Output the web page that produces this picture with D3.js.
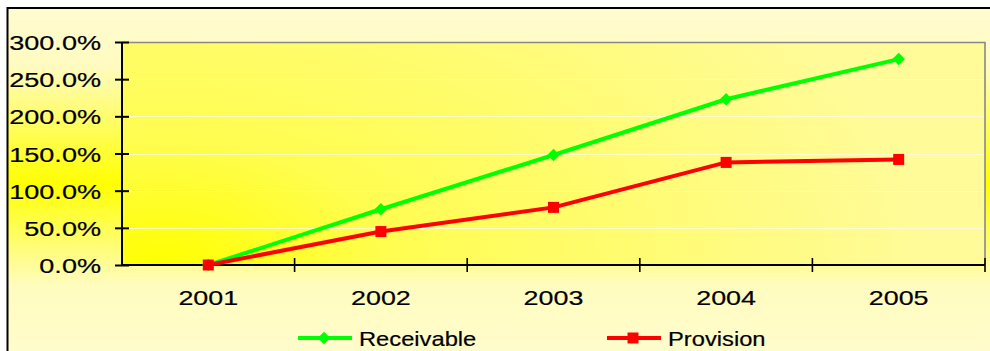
<!DOCTYPE html>
<html>
<head>
<meta charset="utf-8">
<script src="https://cdn.jsdelivr.net/npm/d3@7/dist/d3.min.js"></script>
<style>
	html, body { margin: 0; padding: 0; background: #fff; }
	svg { display: block; font-family: "Liberation Sans", Arial, sans-serif; }
</style>
</head>
<body>
<div id="chart"></div>
<script>
const YEARS = ['2001', '2002', '2003', '2004', '2005'];
const RECEIVABLE = [0, 75, 148, 223, 277];
const PROVISION = [0, 45, 77.5, 138, 142];
const Y_TICKS = [0, 50, 100, 150, 200, 250, 300];
const SERIES_NAMES = ['Receivable', 'Provision'];

const W = 990,
	H = 351,
	margin = { left: 122, top: 42, right: 5, bottom: 86 },
	plotW = W - margin.left - margin.right,
	plotH = H - margin.top - margin.bottom;

const svg = d3.select('#chart').append('svg')
	.attr('width', W)
	.attr('height', H);

const defs = svg.append('defs');

// chart area: pale at top and bottom, strong yellow in the middle
let outerGrad = defs.append('linearGradient')
	.attr('id', 'outerGrad')
	.attr('x1', 0).attr('y1', 0).attr('x2', 0).attr('y2', 1);
outerGrad.append('stop').attr('offset', '0%').attr('stop-color', '#fffcd0');
outerGrad.append('stop').attr('offset', '16%').attr('stop-color', '#fffbc0');
outerGrad.append('stop').attr('offset', '48%').attr('stop-color', '#ffff00');
outerGrad.append('stop').attr('offset', '76%').attr('stop-color', '#fffcc0');
outerGrad.append('stop').attr('offset', '100%').attr('stop-color', '#fffdd0');

// plot area: bright yellow in lower left corner fading to pale
let plotGrad = defs.append('radialGradient')
	.attr('id', 'plotGrad')
	.attr('gradientUnits', 'userSpaceOnUse')
	.attr('cx', 40).attr('cy', plotH)
	.attr('r', 420)
	.attr('gradientTransform', 'translate(40,' + plotH + ') scale(1.8,1) translate(-40,' + (-plotH) + ')');
plotGrad.append('stop').attr('offset', '0%').attr('stop-color', '#ffff00');
plotGrad.append('stop').attr('offset', '30%').attr('stop-color', '#fffd50');
plotGrad.append('stop').attr('offset', '100%').attr('stop-color', '#fffb98');

svg.append('rect')
	.attr('x', 7.5).attr('y', 8)
	.attr('width', W + 10).attr('height', 336 + 30)
	.attr('fill', 'url(#outerGrad)')
	.attr('stroke', '#000')
	.attr('stroke-width', 2);

const g = svg.append('g')
	.attr('transform', 'translate(' + margin.left + ',' + margin.top + ')');

const x = d3.scaleBand().domain(YEARS).range([0, plotW]);
const y = d3.scaleLinear().domain([0, 300]).range([plotH, 0]);

g.append('rect')
	.attr('width', plotW).attr('height', plotH)
	.attr('fill', 'url(#plotGrad)');

// faint light gridlines
g.append('g').selectAll('line')
	.data(Y_TICKS.filter(t => t > 0 && t < 300))
	.join('line')
	.attr('x1', 0).attr('x2', plotW)
	.attr('y1', d => Math.round(y(d)) + 0.5).attr('y2', d => Math.round(y(d)) + 0.5)
	.attr('stroke', '#fffde0')
	.attr('stroke-opacity', 0.8)
	.attr('stroke-width', 1);

// gray top/right border of plot
g.append('path')
	.attr('d', 'M0,0.5H' + plotW + 'V' + plotH)
	.attr('fill', 'none')
	.attr('stroke', '#888')
	.attr('stroke-width', 1.6);

// stretch text horizontally like the source image
function stretch(sel, sx) {
	sel.each(function () {
		let t = d3.select(this),
			ax = +t.attr('x') || 0;
		t.attr('x', ax / sx).attr('transform', 'scale(' + sx + ',1)');
	});
}

// y axis
let yAxis = g.append('g')
	.call(d3.axisLeft(y).tickValues(Y_TICKS).tickSize(7).tickPadding(14)
		.tickFormat(d => d.toFixed(1) + '%'));
yAxis.select('.domain').remove();
yAxis.selectAll('.tick line').attr('x2', 7).attr('x1', -7).attr('stroke', '#000').attr('stroke-width', 2);
yAxis.selectAll('.tick text')
	.attr('font-size', 21)
	.attr('fill', '#000')
	.attr('stroke', '#000')
	.attr('stroke-width', 0.2)
	.attr('dy', '0.36em')
	.call(stretch, 1.29);
g.append('line')
	.attr('x1', 0).attr('x2', 0).attr('y1', 0).attr('y2', plotH)
	.attr('stroke', '#000').attr('stroke-width', 2);

// x axis with ticks on category boundaries
let bounds = YEARS.map(d => x(d)).concat([plotW]);
let xAxis = g.append('g').attr('transform', 'translate(0,' + plotH + ')');
xAxis.append('line')
	.attr('x1', 0).attr('x2', plotW)
	.attr('stroke', '#000').attr('stroke-width', 2);
xAxis.selectAll('.xtick')
	.data(bounds.slice(1))
	.join('line')
	.attr('class', 'xtick')
	.attr('x1', d => d).attr('x2', d => d)
	.attr('y1', -7).attr('y2', 7)
	.attr('stroke', '#000').attr('stroke-width', 1.6);
xAxis.selectAll('.xlabel')
	.data(YEARS)
	.join('text')
	.attr('class', 'xlabel')
	.attr('x', d => x(d) + x.bandwidth() / 2)
	.attr('y', 40)
	.attr('text-anchor', 'middle')
	.attr('font-size', 21)
	.attr('fill', '#000')
	.attr('stroke', '#000')
	.attr('stroke-width', 0.2)
	.text(d => d)
	.call(stretch, 1.28);

// lines and markers
const cx = d => x(d) + x.bandwidth() / 2;
const series = [
	{ name: SERIES_NAMES[0], values: RECEIVABLE, color: '#00ff00', symbol: d3.symbolSquare, size: 78, rotate: 45 },
	{ name: SERIES_NAMES[1], values: PROVISION, color: '#ff0000', symbol: d3.symbolSquare, size: 121, rotate: 0 }
];

const line = d3.line()
	.x((d, i) => cx(YEARS[i]))
	.y(d => y(d));

series.forEach(s => {
	g.append('path')
		.attr('d', line(s.values))
		.attr('fill', 'none')
		.attr('stroke', s.color)
		.attr('stroke-width', 4)
		.attr('stroke-linejoin', 'round');
	g.selectAll(null)
		.data(s.values)
		.join('path')
		.attr('d', d3.symbol().type(s.symbol).size(s.size))
		.attr('transform', (d, i) => 'translate(' + cx(YEARS[i]) + ',' + y(d) + ') rotate(' + s.rotate + ')')
		.attr('fill', s.color);
});

// legend
const legendY = 338;
const legendX = [298, 607];
series.forEach((s, i) => {
	let lg = svg.append('g').attr('transform', 'translate(' + legendX[i] + ',' + legendY + ')');
	lg.append('line')
		.attr('x1', 0).attr('x2', 54)
		.attr('stroke', s.color).attr('stroke-width', 4);
	lg.append('path')
		.attr('d', d3.symbol().type(s.symbol).size(s.size))
		.attr('transform', 'translate(26,0) rotate(' + s.rotate + ')')
		.attr('fill', s.color);
	lg.append('text')
		.attr('x', 61)
		.attr('y', 7.5)
		.attr('font-size', 21)
		.attr('fill', '#000')
		.attr('stroke', '#000')
		.attr('stroke-width', 0.2)
		.text(s.name)
		.call(stretch, 1.13);
});
</script>
</body>
</html>
